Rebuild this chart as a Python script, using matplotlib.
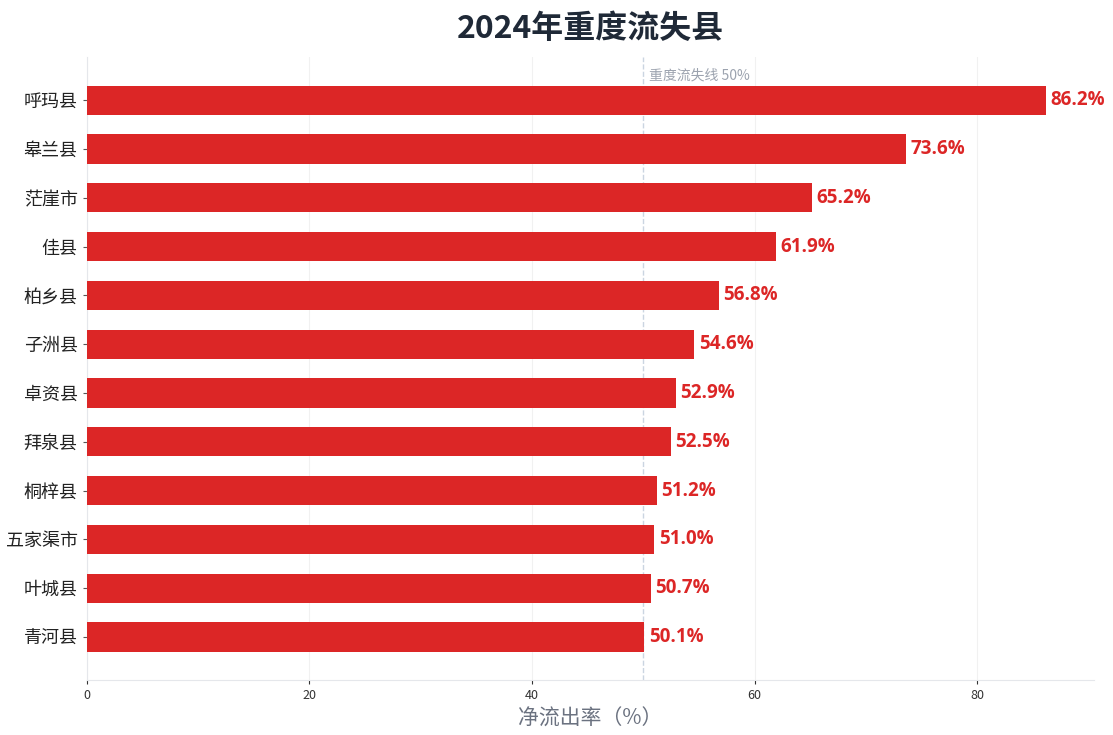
import numpy as np
import matplotlib
matplotlib.use('Agg')
from matplotlib import pyplot as plt

plt.rcParams['font.family'] = ['Noto Sans CJK SC', 'DejaVu Sans']
latin = ['Open Sans', 'Noto Sans CJK SC']

# data
counties = ['呼玛县', '皋兰县', '茫崖市', '佳县', '柏乡县', '子洲县',
            '卓资县', '拜泉县', '桐梓县', '五家渠市', '叶城县', '青河县']
outflow = [86.2, 73.6, 65.2, 61.9, 56.8, 54.6, 52.9, 52.5, 51.2, 51.0, 50.7, 50.1]
threshold = 50

fig = plt.figure(figsize=(11.13, 7.35), dpi=100)
ax = fig.add_axes([0.078, 0.075, 0.905, 0.847])

y = np.arange(len(counties))
ax.barh(y, outflow, height=0.6, color='#dc2626', zorder=3)
ax.invert_yaxis()
ax.set_yticks(y)
ax.set_yticklabels(counties, fontsize=13, color='#222222')

for yi, v in zip(y, outflow):
    ax.text(v + 0.4, yi, f'{v:.1f}%', va='center', ha='left', family=latin,
            fontsize=13.5, fontweight='bold', color='#dc2626', zorder=4)

ax.axvline(threshold, color='#cbd5e1', linestyle='--', linewidth=1, zorder=2)
ax.text(threshold + 0.5, -0.36, f'重度流失线 {threshold}%', fontsize=10,
        family=['Noto Sans CJK SC'], color='#9ca3af', va='bottom', ha='left')

ax.set_xlim(0, max(outflow) * 1.05)
ax.set_xticks([0, 20, 40, 60, 80])
ax.tick_params(axis='x', labelsize=9, colors='#333333', length=3)
ax.tick_params(axis='y', length=3, colors='#555555', labelcolor='#222222')
ax.grid(axis='x', color='#f1f1f1', linewidth=0.8, zorder=0)
ax.set_axisbelow(True)

for s in ['top', 'right']:
    ax.spines[s].set_visible(False)
for s in ['left', 'bottom']:
    ax.spines[s].set_color('#e5e7eb')

ax.set_xlabel('净流出率（%）', fontsize=15, color='#6b7280', labelpad=4)
ax.set_title('2024年重度流失县', fontsize=23, fontweight='bold', color='#1f2937', pad=14)

fig.savefig('out.png', dpi=100)
